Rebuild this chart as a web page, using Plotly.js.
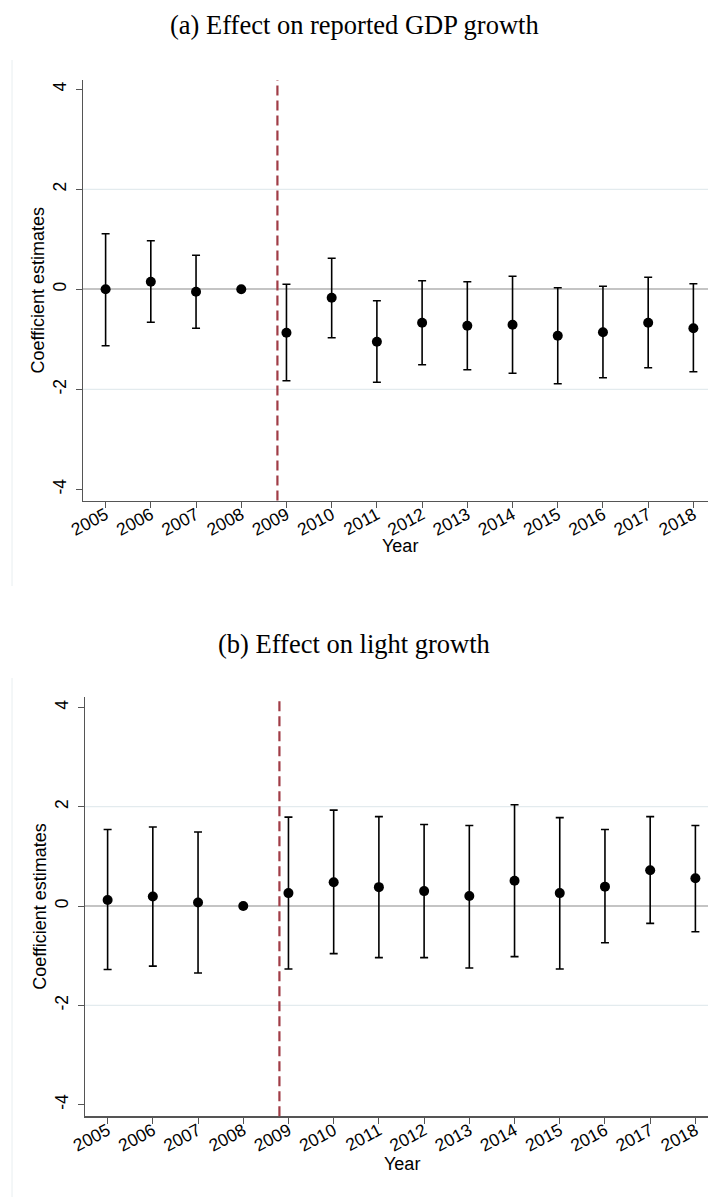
<!DOCTYPE html>
<html>
<head>
<meta charset="utf-8">
<script src="https://cdn.plot.ly/plotly-3.0.1.min.js"></script>
<style>
html, body { margin: 0; padding: 0; overflow: hidden; background: #ffffff; }
#chart { width: 718px; height: 1197px; }
</style>
</head>
<body>
<div id="chart"></div>
<script>
// ---- Data ----
var years = [2005, 2006, 2007, 2008, 2009, 2010, 2011, 2012, 2013, 2014, 2015, 2016, 2017, 2018];
var yearLabels = ["2005", "2006", "2007", "2008", "2009", "2010", "2011", "2012", "2013", "2014", "2015", "2016", "2017", "2018"];

// Panel (a): effect on reported GDP growth
var gdpEst  = [0.00, 0.15, -0.05, 0.00, -0.87, -0.17, -1.05, -0.67, -0.73, -0.71, -0.93, -0.86, -0.67, -0.78];
var gdpHigh = [1.11, 0.97, 0.68, null, 0.10, 0.62, -0.23, 0.17, 0.15, 0.26, 0.03, 0.06, 0.24, 0.11];
var gdpLow  = [-1.13, -0.66, -0.78, null, -1.83, -0.97, -1.86, -1.51, -1.61, -1.68, -1.89, -1.77, -1.57, -1.65];

// Panel (b): effect on light growth
var lightEst  = [0.12, 0.19, 0.07, 0.00, 0.26, 0.48, 0.38, 0.30, 0.20, 0.51, 0.26, 0.39, 0.72, 0.56];
var lightHigh = [1.54, 1.59, 1.49, null, 1.79, 1.93, 1.80, 1.64, 1.62, 2.04, 1.78, 1.54, 1.80, 1.62];
var lightLow  = [-1.28, -1.21, -1.35, null, -1.27, -0.96, -1.04, -1.04, -1.25, -1.02, -1.27, -0.74, -0.35, -0.52];

var yTickVals = [-4, -2, 0, 2, 4];
var yTickText = ["-4", "-2", "0", "2", "4"];
var gridVals = [-2, 2];
var policyLine = 2008.8;

var titleA = "(a) Effect on reported GDP growth";
var titleB = "(b) Effect on light growth";
var yTitle = "Coefficient estimates";
var xTitle = "Year";

// ---- Helpers ----
function plus(est, hi) { return est.map(function (v, i) { return hi[i] === null ? null : hi[i] - v; }); }
function minus(est, lo) { return est.map(function (v, i) { return lo[i] === null ? null : v - lo[i]; }); }

var W = 718, H = 1197;
function py(px) { return 1 - px / H; }

function trace(est, lo, hi, xa, ya) {
  return {
    type: "scatter", mode: "markers", x: years, y: est, xaxis: xa, yaxis: ya,
    marker: { color: "#000000", size: 10 },
    error_y: { type: "data", symmetric: false, array: plus(est, hi), arrayminus: minus(est, lo),
               color: "#000000", thickness: 1.6, width: 4 },
    hoverinfo: "x+y", showlegend: false
  };
}

var tickFont = { family: "Liberation Sans, Arial, sans-serif", size: 17.5, color: "#000000" };
var titleFont = { family: "Liberation Sans, Arial, sans-serif", size: 18, color: "#000000" };

function xAxis(domain, anchor) {
  return {
    domain: domain, anchor: anchor, range: [2004.5, 2018.5],
    tickmode: "array", tickvals: years, ticktext: yearLabels, tickangle: -28,
    ticks: "outside", ticklen: 6, tickwidth: 1, tickcolor: "#555555", ticklabelstandoff: -10,
    showline: true, linecolor: "#555555", linewidth: 1.5, showgrid: false, zeroline: false,
    tickfont: tickFont, fixedrange: true
  };
}
function yAxis(domain, anchor, range) {
  return {
    domain: domain, anchor: anchor, range: range,
    tickmode: "array", tickvals: yTickVals, ticktext: yTickText, tickangle: -90,
    ticks: "outside", ticklen: 6, tickwidth: 1, tickcolor: "#555555", ticklabelstandoff: 3,
    showline: true, linecolor: "#555555", linewidth: 1.5, showgrid: false,
    zeroline: true, zerolinecolor: "#c4c4c4", zerolinewidth: 1.6,
    tickfont: tickFont, title: { text: yTitle, font: titleFont, standoff: 0 }, fixedrange: true
  };
}

var shapes = [];
[["x", "y"], ["x2", "y2"]].forEach(function (p) {
  gridVals.forEach(function (g) {
    shapes.push({ type: "line", xref: p[0] + " domain", yref: p[1], x0: 0, x1: 1, y0: g, y1: g,
                  line: { color: "#e3ebee", width: 1.2 }, layer: "below" });
  });
  shapes.push({ type: "line", xref: p[0], yref: p[1] + " domain", x0: policyLine, x1: policyLine, y0: 0, y1: 1,
                line: { color: "#a03c46", width: 2.2, dash: "10px,5px" }, layer: "above" });
});
// faint graph-region borders
shapes.push({ type: "line", xref: "paper", yref: "paper", x0: 12 / W, x1: 12 / W, y0: py(586), y1: py(60),
              line: { color: "#e8eef0", width: 1 } });
shapes.push({ type: "line", xref: "paper", yref: "paper", x0: 12 / W, x1: 12 / W, y0: py(1197), y1: py(678),
              line: { color: "#e8eef0", width: 1 } });

var titleStyle = { family: "Liberation Serif, Times New Roman, serif", size: 26.5, color: "#000000" };

var layout = {
  width: W, height: H,
  margin: { l: 0, r: 0, t: 0, b: 0 },
  paper_bgcolor: "#ffffff", plot_bgcolor: "#ffffff",
  showlegend: false,
  xaxis: xAxis([83 / W, 716 / W], "y"),
  yaxis: yAxis([py(500.5), py(80)], "x", [-4.224, 4.186]),
  xaxis2: xAxis([85 / W, 1], "y2"),
  yaxis2: yAxis([py(1116.3), py(696.7)], "x2", [-4.235, 4.215]),
  shapes: shapes,
  annotations: [
    { text: titleA, xref: "paper", yref: "paper", x: 354 / W, y: py(25), xanchor: "center", yanchor: "middle",
      showarrow: false, font: titleStyle },
    { text: titleB, xref: "paper", yref: "paper", x: 354 / W, y: py(644), xanchor: "center", yanchor: "middle",
      showarrow: false, font: titleStyle },
    { text: xTitle, xref: "x domain", yref: "paper", x: 0.5, y: py(546), xanchor: "center", yanchor: "middle",
      showarrow: false, font: titleFont },
    { text: xTitle, xref: "x2 domain", yref: "paper", x: 0.5, y: py(1164), xanchor: "center", yanchor: "middle",
      showarrow: false, font: titleFont }
  ]
};

Plotly.newPlot("chart", [
  trace(gdpEst, gdpLow, gdpHigh, "x", "y"),
  trace(lightEst, lightLow, lightHigh, "x2", "y2")
], layout, { displayModeBar: false, staticPlot: true });
</script>
</body>
</html>
